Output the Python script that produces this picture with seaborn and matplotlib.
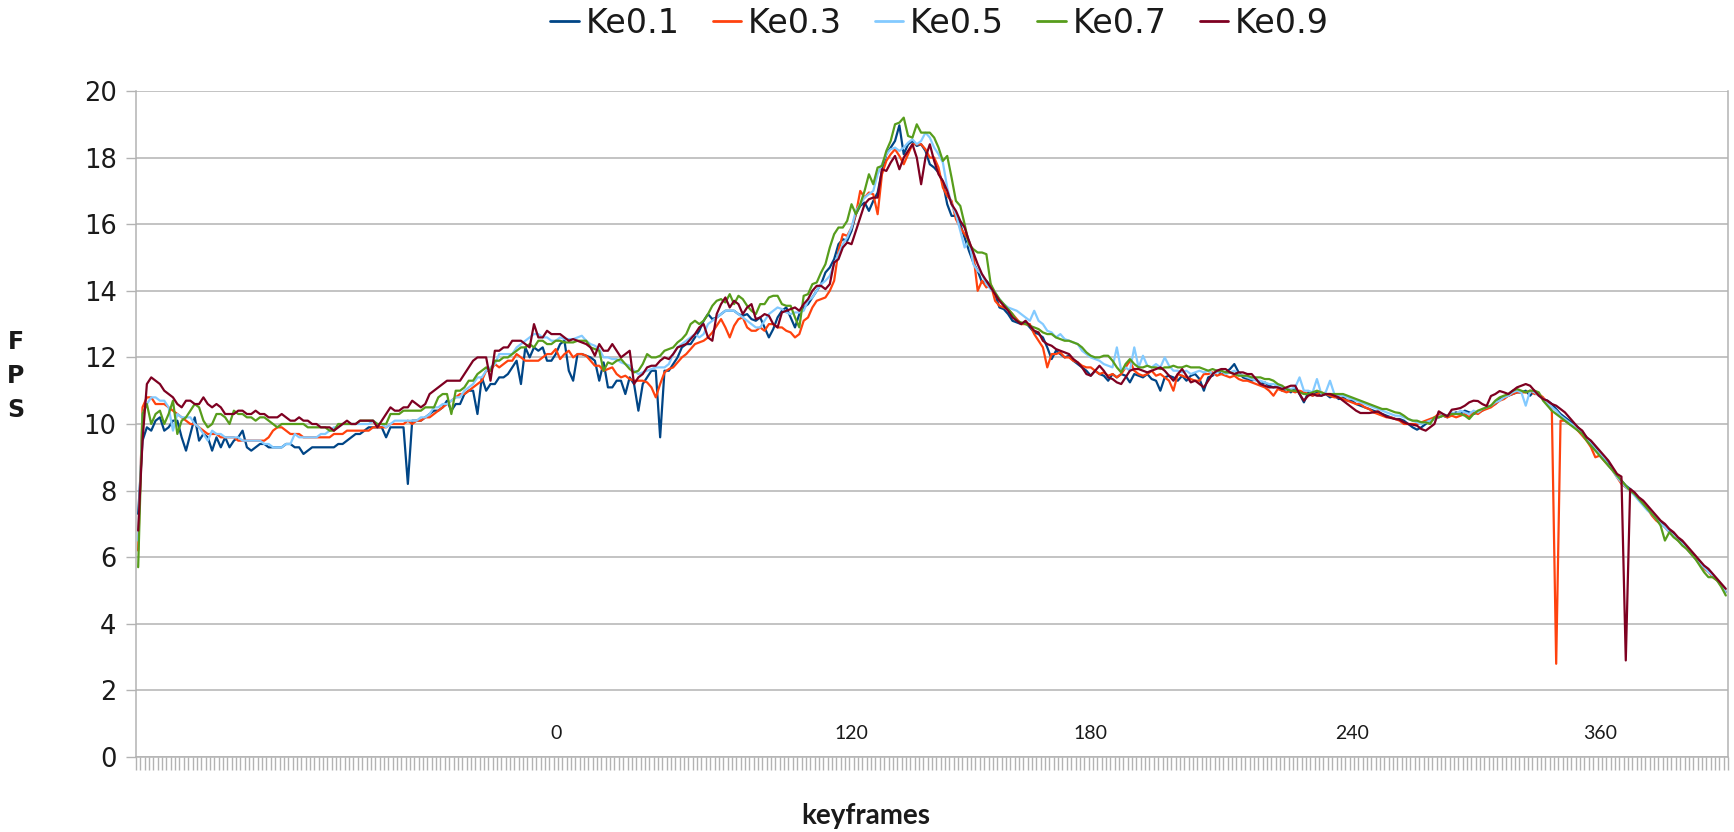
import matplotlib
matplotlib.use("Agg")
import matplotlib.pyplot as plt
from matplotlib.lines import Line2D
import numpy as np
import pandas as pd
import seaborn as sns

# ---- data -------------------------------------------------------------
series_names = ["Ke0.1", "Ke0.3", "Ke0.5", "Ke0.7", "Ke0.9"]
series_colors = ["#004586", "#ff420e", "#83caff", "#579d1c", "#7e0021"]

ke01 = [
    7.3, 9.5, 9.9, 9.8, 10.1, 10.2, 9.8, 9.9, 10.1, 10.1,
    9.6, 9.2, 9.7, 10.2, 9.5, 9.7, 9.6, 9.2, 9.6, 9.3,
    9.6, 9.3, 9.5, 9.6, 9.8, 9.3, 9.2, 9.3, 9.4, 9.4,
    9.3, 9.3, 9.3, 9.3, 9.4, 9.4, 9.3, 9.3, 9.1, 9.2,
    9.3, 9.3, 9.3, 9.3, 9.3, 9.3, 9.4, 9.4, 9.5, 9.6,
    9.7, 9.7, 9.8, 9.9, 9.9, 9.9, 9.9, 9.6, 9.9, 9.9,
    9.9, 9.9, 8.2, 10.1, 10.1, 10.1, 10.2, 10.3, 10.4, 10.4,
    10.5, 10.7, 10.4, 10.6, 10.6, 10.9, 11.0, 11.0, 10.3, 11.4,
    11.0, 11.2, 11.2, 11.4, 11.4, 11.5, 11.7, 11.9, 11.2, 12.3,
    12.0, 12.3, 12.2, 12.3, 11.9, 11.9, 12.1, 12.4, 12.5, 11.6,
    11.3, 12.1, 12.1, 12.05, 12.0, 11.9, 11.3, 11.85, 11.1, 11.1,
    11.3, 11.3, 10.9, 11.4, 11.2, 10.4, 11.2, 11.4, 11.6, 11.6,
    9.6, 11.6, 11.6, 11.8, 12.0, 12.3, 12.4, 12.4, 12.6, 12.8,
    13.1, 13.3, 13.15, 13.2, 13.3, 13.4, 13.4, 13.4, 13.3, 13.25,
    13.3, 13.15, 13.1, 13.2, 12.9, 12.6, 12.85, 13.2, 13.4, 13.5,
    13.2, 12.9, 13.3, 13.5, 13.6, 13.8, 14.0, 14.2, 14.55, 14.7,
    14.95, 15.4, 15.55, 15.5, 15.8, 16.3, 16.55, 16.65, 16.4, 16.7,
    16.95, 17.6, 18.1, 18.3, 18.5, 18.97, 18.1, 18.4, 18.5, 18.35,
    18.4, 18.2, 17.8, 17.7, 17.55, 17.25, 16.6, 16.25, 16.25, 16.0,
    15.6, 15.2, 14.85, 14.6, 14.25, 14.3, 14.15, 13.9, 13.5, 13.45,
    13.3, 13.1, 13.05, 13.0, 13.05, 12.9, 12.75, 12.7, 12.6, 12.3,
    11.95, 12.2, 12.1, 12.0, 12.05, 11.9, 11.8, 11.7, 11.6, 11.45,
    11.6, 11.5, 11.45, 11.3, 11.5, 11.4, 11.5, 11.45, 11.25, 11.5,
    11.45, 11.4, 11.5, 11.35, 11.3, 11.0, 11.4, 11.45, 11.4, 11.3,
    11.45, 11.3, 11.45, 11.5, 11.35, 11.0, 11.4, 11.45, 11.6, 11.5,
    11.55, 11.65, 11.8, 11.55, 11.4, 11.35, 11.3, 11.35, 11.2, 11.25,
    11.15, 11.1, 11.15, 11.0, 11.05, 10.95, 11.1, 10.9, 10.65, 10.95,
    10.85, 10.95, 10.85, 10.9, 10.8, 10.85, 10.75, 10.8, 10.7, 10.7,
    10.6, 10.55, 10.5, 10.45, 10.4, 10.35, 10.3, 10.25, 10.2, 10.15,
    10.15, 10.1, 10.0, 9.9, 9.83, 9.9, 10.0, 10.1, 10.15, 10.2,
    10.25, 10.2, 10.3, 10.35, 10.3, 10.4, 10.35, 10.3, 10.35, 10.4,
    10.5, 10.55, 10.6, 10.75, 10.8, 10.85, 10.9, 10.95, 10.95, 11.0,
    10.85, 11.0, 10.9, 10.75, 10.7, 10.6, 10.45, 10.3, 10.2, 10.1,
    10.0, 9.9, 9.75, 9.6, 9.45, 9.3, 9.1, 8.95, 8.8, 8.65,
    8.45, 8.3, 8.15, 8.05, 7.9, 7.75, 7.6, 7.45, 7.3, 7.15,
    7.05, 6.95, 6.8, 6.7, 6.55, 6.45, 6.3, 6.15, 6.0, 5.85,
    5.7, 5.6, 5.45, 5.3, 5.15, 4.95,
]

ke03 = [
    6.2, 10.5, 10.8, 10.8, 10.6, 10.6, 10.6, 10.5, 10.4, 10.3,
    10.2, 10.1, 10.0, 10.0, 9.9, 9.8, 9.7, 9.7, 9.7, 9.6,
    9.6, 9.6, 9.6, 9.5, 9.5, 9.5, 9.5, 9.5, 9.5, 9.5,
    9.6, 9.8, 9.9, 9.9, 9.8, 9.7, 9.7, 9.7, 9.6, 9.6,
    9.6, 9.6, 9.6, 9.6, 9.6, 9.7, 9.7, 9.7, 9.8, 9.8,
    9.8, 9.8, 9.8, 9.8, 9.9, 9.9, 9.9, 9.9, 10.0, 10.0,
    10.0, 10.0, 10.1, 10.0, 10.1, 10.1, 10.2, 10.2, 10.3, 10.4,
    10.5, 10.6, 10.7, 10.8, 10.9, 10.9, 11.0, 11.1, 11.2, 11.3,
    11.6, 11.6, 11.8, 11.7, 11.8, 11.9, 11.9, 12.1, 12.0, 11.9,
    11.9, 11.9, 11.9, 12.0, 12.1, 12.1, 12.25, 11.95, 12.1, 12.2,
    12.0, 12.1, 12.1, 12.05, 11.9, 11.75, 11.75, 11.6, 11.65, 11.7,
    11.5, 11.4, 11.45, 11.35, 11.3, 11.3, 11.3, 11.25, 11.1, 10.8,
    11.2, 11.55, 11.65, 11.7, 11.85, 12.0, 12.1, 12.25, 12.4, 12.45,
    12.5, 12.6, 12.75, 12.95, 13.15, 12.9, 12.6, 12.95, 13.15, 13.2,
    12.9, 12.8, 12.8, 12.9, 12.8, 13.0, 13.0, 12.9, 12.9, 12.8,
    12.75, 12.6, 12.7, 13.1, 13.2, 13.5, 13.7, 13.75, 13.8, 14.0,
    14.3, 15.2, 15.7, 15.65, 15.9, 16.3, 17.0, 16.8, 16.95, 16.9,
    16.3, 17.5, 17.9, 18.1, 18.25, 18.05, 17.8, 18.1, 18.4, 18.4,
    18.4, 18.25, 18.0, 18.0, 17.7, 17.1, 16.85, 16.7, 16.15, 15.9,
    15.7, 15.5, 15.1, 14.0, 14.3, 14.1, 14.2, 13.7, 13.55, 13.5,
    13.45, 13.3, 13.15, 13.0, 13.0, 13.0, 12.7, 12.5, 12.3, 11.7,
    12.1, 12.1, 12.15, 12.0, 12.0, 11.9, 11.85, 11.75, 11.7, 11.7,
    11.6, 11.5, 11.55, 11.45, 11.5, 11.4, 11.5, 11.7, 11.9, 11.6,
    11.5, 11.45, 11.5, 11.6, 11.45, 11.5, 11.4, 11.3, 11.0, 11.5,
    11.45, 11.4, 11.35, 11.3, 11.3, 11.5, 11.5, 11.55, 11.45, 11.5,
    11.45, 11.4, 11.45, 11.35, 11.3, 11.3, 11.25, 11.2, 11.15, 11.1,
    11.0, 10.85, 11.05, 11.0, 10.95, 11.0, 10.95, 11.0, 10.95, 10.9,
    10.85, 10.9, 10.95, 10.9, 10.85, 10.8, 10.8, 10.75, 10.7, 10.65,
    10.6, 10.6, 10.5, 10.45, 10.35, 10.3, 10.25, 10.2, 10.2, 10.15,
    10.1, 10.0, 10.0, 10.0, 10.0, 10.05, 10.1, 10.15, 10.2, 10.3,
    10.25, 10.2, 10.25, 10.2, 10.25, 10.3, 10.2, 10.35, 10.3, 10.4,
    10.45, 10.5, 10.6, 10.7, 10.75, 10.85, 10.9, 10.95, 10.95, 10.95,
    11.0, 10.9, 10.9, 10.8, 10.6, 10.4, 2.8, 10.1, 10.1, 10.0,
    9.95, 9.8, 9.65, 9.5, 9.3, 9.0, 9.05, 8.9, 8.75, 8.6,
    8.4, 8.2, 8.1, 8.0, 7.9, 7.75, 7.6, 7.45, 7.25, 7.1,
    7.0, 6.9, 6.75, 6.65, 6.5, 6.4, 6.25, 6.1, 5.95, 5.8,
    5.65, 5.55, 5.4, 5.3, 5.15, 4.95,
]

ke05 = [
    6.5, 10.3, 10.6, 10.8, 10.8, 10.7, 10.7, 10.5, 9.8, 10.3,
    10.2, 10.2, 10.2, 10.0, 9.9, 9.7, 9.5, 9.8, 9.7, 9.7,
    9.6, 9.6, 9.6, 9.6, 9.5, 9.5, 9.5, 9.5, 9.5, 9.4,
    9.4, 9.3, 9.3, 9.3, 9.4, 9.4, 9.7, 9.6, 9.6, 9.6,
    9.6, 9.6, 9.7, 9.7, 9.8, 9.9, 9.9, 10.0, 10.0, 10.0,
    10.0, 10.0, 10.0, 10.0, 10.1, 10.0, 10.0, 9.9, 10.0, 10.1,
    10.1, 10.1, 10.1, 10.1, 10.1, 10.2, 10.2, 10.3, 10.5, 10.5,
    10.6, 10.6, 10.7, 10.8, 10.8, 11.0, 11.1, 11.2, 11.4, 11.4,
    11.6, 11.7, 11.8, 12.1, 12.1, 12.1, 12.1, 12.3, 12.4, 12.5,
    12.6, 12.7, 12.7, 12.6, 12.6, 12.5, 12.5, 12.6, 12.55, 12.55,
    12.55, 12.6, 12.65, 12.5, 12.4, 12.35, 12.25, 12.0, 12.0, 11.95,
    11.95, 11.85, 11.8, 11.75, 11.6, 11.5, 11.55, 11.6, 11.65, 11.7,
    11.7, 11.7, 11.8, 12.1, 12.3, 12.4, 12.5, 12.6, 12.7, 12.6,
    12.7, 13.0, 13.1, 13.2, 13.3, 13.4, 13.4, 13.4, 13.3, 13.2,
    13.1, 13.0, 12.9, 12.9, 13.1, 13.3, 13.4, 13.5, 13.45, 13.35,
    13.3, 13.35, 13.35, 13.4, 13.7, 13.8, 14.0, 14.2, 14.3, 14.45,
    14.8, 15.1, 15.4, 15.6, 15.9, 16.4, 16.6, 16.8, 16.9, 17.0,
    17.5, 17.8, 18.1, 18.25, 18.3, 18.2, 18.3, 18.45, 18.55, 18.4,
    18.5, 18.75, 18.6, 18.3, 18.1, 17.85, 17.1, 16.6, 16.3, 15.8,
    15.3, 15.5, 14.8, 14.6, 14.5, 14.2, 14.05, 13.95, 13.75, 13.6,
    13.5, 13.45, 13.4, 13.3, 13.2, 13.1, 13.4, 13.1, 13.0, 12.8,
    12.75, 12.6, 12.7, 12.55, 12.5, 12.45, 12.4, 12.2, 12.1, 12.0,
    11.95, 11.9, 11.8, 11.75, 11.7, 12.3, 11.6, 11.7, 11.6, 12.3,
    11.7, 12.05, 11.75, 11.7, 11.8, 11.7, 12.0, 11.75, 11.6, 11.6,
    11.55, 11.6, 11.5, 11.55, 11.6, 11.55, 11.6, 11.5, 11.55, 11.6,
    11.5, 11.55, 11.6, 11.5, 11.45, 11.4, 11.35, 11.3, 11.3, 11.25,
    11.2, 11.2, 11.15, 11.1, 11.05, 11.05, 11.1, 11.4, 11.0, 11.0,
    10.95, 11.35, 10.9, 10.95, 11.3, 10.9, 10.85, 10.85, 10.8, 10.75,
    10.7, 10.65, 10.6, 10.55, 10.5, 10.45, 10.4, 10.35, 10.3, 10.25,
    10.25, 10.2, 10.15, 10.1, 10.05, 10.0, 10.05, 10.1, 10.15, 10.2,
    10.3, 10.25, 10.35, 10.3, 10.4, 10.35, 10.3, 10.4, 10.35, 10.45,
    10.5, 10.55, 10.65, 10.7, 10.8, 10.85, 10.95, 11.0, 10.95, 10.55,
    11.0, 10.95, 10.85, 10.75, 10.6, 10.5, 10.4, 10.25, 10.15, 10.05,
    9.95, 9.85, 9.7, 9.55, 9.4, 9.25, 9.1, 8.95, 8.75, 8.6,
    8.4, 8.25, 8.1, 8.0, 7.85, 7.7, 7.55, 7.4, 7.3, 7.15,
    7.0, 6.9, 6.75, 6.65, 6.5, 6.4, 6.25, 6.1, 5.95, 5.8,
    5.7, 5.55, 5.45, 5.3, 5.15, 4.95,
]

ke07 = [
    5.7, 10.3, 10.6, 10.0, 10.3, 10.4, 10.0, 10.3, 10.7, 9.7,
    10.1, 10.2, 10.4, 10.6, 10.5, 10.1, 9.9, 10.0, 10.3, 10.3,
    10.2, 10.0, 10.4, 10.3, 10.3, 10.2, 10.2, 10.1, 10.2, 10.2,
    10.1, 10.0, 9.9, 10.0, 10.0, 10.0, 10.0, 10.0, 10.0, 9.9,
    9.9, 9.9, 9.9, 9.9, 9.8, 9.8, 10.0, 10.0, 10.0, 10.0,
    10.0, 10.1, 10.1, 10.1, 10.1, 10.0, 10.0, 10.0, 10.3, 10.3,
    10.3, 10.4, 10.4, 10.4, 10.4, 10.4, 10.5, 10.5, 10.5, 10.8,
    10.9, 10.9, 10.3, 11.0, 11.0, 11.1, 11.3, 11.3, 11.5, 11.6,
    11.7, 11.6, 11.9, 11.9, 12.0, 12.0, 12.1, 12.2, 12.3, 12.3,
    12.4, 12.3, 12.5, 12.5, 12.4, 12.4, 12.5, 12.5, 12.45, 12.45,
    12.45, 12.5, 12.5, 12.5, 12.3, 12.25, 12.2, 11.6, 11.85, 11.8,
    11.9, 11.95, 11.8, 11.65, 11.55, 11.6, 11.8, 12.1, 12.0, 12.0,
    12.05, 12.2, 12.25, 12.3, 12.45, 12.55, 12.7, 13.0, 13.1, 13.0,
    13.1, 13.3, 13.55, 13.7, 13.75, 13.65, 13.9, 13.6, 13.85, 13.75,
    13.55, 13.4, 13.3, 13.6, 13.6, 13.8, 13.85, 13.85, 13.6, 13.55,
    13.55, 13.2, 12.9, 13.85, 13.9, 14.2, 14.25, 14.55, 14.8, 15.3,
    15.7, 15.9, 15.9, 16.1, 16.6, 16.3, 16.6, 17.0, 17.5, 17.2,
    17.7, 17.75, 18.2, 18.5, 19.0, 19.05, 19.2, 18.65, 18.6, 19.0,
    18.75, 18.75, 18.75, 18.6, 18.3, 17.9, 18.05, 17.4, 16.7, 16.55,
    16.0, 15.4, 15.25, 15.15, 15.15, 15.1, 14.2, 13.95, 13.75, 13.6,
    13.45, 13.3, 13.1, 13.05, 13.0, 12.95, 12.9, 12.85, 12.75, 12.7,
    12.7, 12.6, 12.55, 12.5, 12.5, 12.45, 12.4, 12.3, 12.15, 12.05,
    12.0, 12.0, 12.05, 12.05, 11.9, 11.7, 11.55, 11.8, 11.95, 11.8,
    11.7, 11.7, 11.75, 11.7, 11.7, 11.65, 11.7, 11.7, 11.75, 11.7,
    11.7, 11.75, 11.7, 11.7, 11.7, 11.65, 11.6, 11.65, 11.6, 11.6,
    11.55, 11.55, 11.5, 11.45, 11.45, 11.45, 11.4, 11.4, 11.4, 11.35,
    11.35, 11.3, 11.2, 11.15, 11.05, 11.0, 11.0, 10.95, 10.9, 10.9,
    10.95, 11.0, 10.95, 10.9, 10.9, 10.9, 10.9, 10.9, 10.85, 10.8,
    10.75, 10.7, 10.65, 10.6, 10.55, 10.5, 10.45, 10.45, 10.4, 10.35,
    10.33, 10.25, 10.15, 10.1, 10.1, 10.05, 10.05, 10.0, 10.2, 10.2,
    10.25, 10.25, 10.3, 10.3, 10.3, 10.25, 10.15, 10.3, 10.4, 10.45,
    10.5, 10.55, 10.7, 10.8, 10.85, 10.9, 11.0, 11.05, 11.0, 10.95,
    11.0, 11.0, 10.95, 10.7, 10.55, 10.4, 10.3, 10.2, 10.1, 10.0,
    9.9, 9.8, 9.7, 9.5, 9.35, 9.2, 9.05, 8.9, 8.75, 8.6,
    8.45, 8.3, 8.15, 8.0, 7.9, 7.75, 7.6, 7.45, 7.3, 7.15,
    6.95, 6.5, 6.75, 6.6, 6.5, 6.35, 6.25, 6.1, 5.95, 5.75,
    5.55, 5.4, 5.4, 5.3, 5.1, 4.85,
]

ke09 = [
    6.8, 9.5, 11.2, 11.4, 11.3, 11.2, 11.0, 10.9, 10.8, 10.6,
    10.5, 10.7, 10.7, 10.6, 10.6, 10.8, 10.6, 10.5, 10.6, 10.5,
    10.3, 10.3, 10.3, 10.4, 10.4, 10.3, 10.3, 10.4, 10.3, 10.3,
    10.2, 10.2, 10.2, 10.3, 10.2, 10.1, 10.1, 10.2, 10.1, 10.1,
    10.0, 10.0, 9.9, 9.9, 9.9, 9.8, 9.9, 10.0, 10.1, 10.0,
    10.0, 10.1, 10.1, 10.1, 10.1, 9.9, 10.1, 10.3, 10.5, 10.4,
    10.4, 10.5, 10.5, 10.7, 10.6, 10.5, 10.6, 10.9, 11.0, 11.1,
    11.2, 11.3, 11.3, 11.3, 11.3, 11.5, 11.7, 11.9, 12.0, 12.0,
    12.0, 11.3, 12.2, 12.2, 12.3, 12.3, 12.5, 12.5, 12.5, 12.4,
    12.3, 13.0, 12.6, 12.6, 12.8, 12.7, 12.7, 12.7, 12.6, 12.5,
    12.55, 12.5, 12.45, 12.4, 12.3, 12.05, 12.4, 12.2, 12.2, 12.4,
    12.2, 12.0, 12.1, 12.2, 11.2, 11.4, 11.5, 11.7, 11.75, 11.75,
    11.9, 12.0, 11.95, 12.1, 12.3, 12.35, 12.4, 12.55, 12.7, 12.9,
    13.0, 12.6, 12.5, 13.3, 13.6, 13.8, 13.5, 13.7, 13.6, 13.3,
    13.5, 13.6, 13.15, 13.2, 13.3, 13.25, 13.0, 12.9, 13.35, 13.4,
    13.45, 13.5, 13.4, 13.6, 13.75, 14.0, 14.15, 14.15, 14.05, 14.2,
    14.85, 14.95, 15.3, 15.45, 15.4, 15.8, 16.2, 16.6, 16.75, 16.8,
    16.8, 17.65, 17.6, 17.85, 18.05, 17.65, 18.0, 18.2, 18.4, 18.0,
    17.2, 18.0, 18.4, 17.9, 17.5, 17.3, 17.0, 16.6, 16.4, 16.1,
    15.9, 15.5, 15.15, 14.8, 14.5, 14.3, 14.1, 13.9, 13.7, 13.55,
    13.4, 13.2, 13.1, 13.0, 13.1, 12.95, 12.8, 12.75, 12.5, 12.4,
    12.35, 12.25, 12.2, 12.15, 12.1, 11.95, 11.85, 11.7, 11.5, 11.45,
    11.6, 11.75, 11.6, 11.4, 11.35, 11.25, 11.2, 11.4, 11.6, 11.65,
    11.65, 11.6, 11.55, 11.6, 11.65, 11.7, 11.6, 11.45, 11.3, 11.5,
    11.65, 11.45, 11.25, 11.3, 11.2, 11.1, 11.3, 11.5, 11.6, 11.65,
    11.65, 11.55, 11.5, 11.55, 11.55, 11.5, 11.5, 11.35, 11.2, 11.15,
    11.1, 11.1, 11.1, 11.05, 11.1, 11.15, 11.15, 10.9, 10.7, 10.85,
    10.9, 10.85, 10.85, 10.9, 10.9, 10.85, 10.8, 10.7, 10.6, 10.5,
    10.4, 10.33, 10.33, 10.33, 10.35, 10.38, 10.3, 10.22, 10.18, 10.15,
    10.13, 10.05, 10.0, 9.98, 9.95, 9.85, 9.8, 9.9, 10.0, 10.38,
    10.3, 10.23, 10.43, 10.45, 10.48, 10.55, 10.65, 10.7, 10.69, 10.6,
    10.54, 10.84, 10.9, 10.99, 10.95, 10.9, 11.0, 11.1, 11.15, 11.2,
    11.15, 11.0, 10.85, 10.75, 10.7, 10.6, 10.55, 10.45, 10.35, 10.2,
    10.05, 9.9, 9.8, 9.6, 9.5, 9.35, 9.2, 9.05, 8.9, 8.7,
    8.5, 8.42, 2.9, 8.05, 7.95, 7.8, 7.7, 7.55, 7.4, 7.25,
    7.1, 7.0, 6.85, 6.75, 6.6, 6.5, 6.35, 6.2, 6.05, 5.9,
    5.75, 5.65, 5.5, 5.35, 5.2, 5.05,
]

# keyframe captions shown along the category axis (index -> text)
caption_frames = [96, 164, 219, 279, 336]
caption_text = ["0", "120", "180", "240", "360"]
fps_ticks = list(range(0, 21, 2))

# ---- long-form table --------------------------------------------------
all_series = [ke01, ke03, ke05, ke07, ke09]
table = pd.concat(
    [pd.DataFrame({"frame": np.arange(len(v)), "fps": v, "series": name})
     for name, v in zip(series_names, all_series)],
    ignore_index=True,
)
n_frames = max(len(v) for v in all_series)

# ---- style ------------------------------------------------------------
sns.set_theme(style="white")
plt.rcParams["font.family"] = ["DejaVu Sans"]
grid_grey = "#b3b3b3"
text_col = "#1a1a1a"

fig = plt.figure(figsize=(17.34, 8.32), dpi=100)
ax = fig.add_axes([136 / 1734, 75 / 832, 1592 / 1734, 666 / 832])

sns.lineplot(
    data=table, x="frame", y="fps", hue="series",
    hue_order=series_names, palette=series_colors,
    linewidth=1.6, estimator=None, legend=False, ax=ax,
)

ax.set_xlim(-0.5, n_frames - 0.5)
ax.set_ylim(0, 20)

# one tick mark per category boundary
boundaries = np.arange(-0.5, n_frames, 1.0)
ax.set_xticks(boundaries, labels=[""] * len(boundaries))
ax.tick_params(axis="x", which="major", bottom=True, direction="out",
               length=9.5, width=1.0, color=grid_grey)
# keyframe captions sit just above the axis line
ax.set_xticks(caption_frames, labels=caption_text, minor=True)
ax.tick_params(axis="x", which="minor", bottom=True, length=0, pad=-23,
               labelsize=14, labelcolor=text_col)
for lbl in ax.get_xticklabels(minor=True):
    lbl.set_fontfamily(["Lato", "DejaVu Sans"])

ax.set_yticks(fps_ticks)
ax.tick_params(axis="y", left=True, direction="out", length=7, width=1.0,
               color=grid_grey, labelsize=18.5, labelcolor=text_col, pad=7)

ax.grid(axis="y", color=grid_grey, linewidth=1.1)
ax.grid(axis="x", visible=False)
ax.set_axisbelow(True)
for side in ["left", "bottom", "right"]:
    ax.spines[side].set_color(grid_grey)
    ax.spines[side].set_linewidth(1.1)
ax.spines["top"].set_visible(False)

ax.set_ylabel("F\nP\nS", rotation=0, fontsize=17, fontweight="bold",
              linespacing=1.55, color=text_col)
ax.yaxis.set_label_coords(-0.0757, 0.572)
ax.yaxis.label.set_verticalalignment("center")
ax.yaxis.label.set_horizontalalignment("center")

ax.set_xlabel("keyframes", fontsize=20, fontweight="bold",
              family=["Lato", "DejaVu Sans"], color=text_col)
ax.xaxis.set_label_coords(0.4585, -0.0893)
ax.xaxis.label.set_verticalalignment("center")

handles = [Line2D([], [], color=c, linewidth=2.0) for c in series_colors]
fig.legend(handles, series_names, loc="center",
           bbox_to_anchor=(0.5418, 0.972), ncol=5, frameon=False,
           fontsize=24, handlelength=0.85, handletextpad=0.2,
           columnspacing=1.0, labelcolor=text_col)

fig.savefig("out.png", dpi=100)
